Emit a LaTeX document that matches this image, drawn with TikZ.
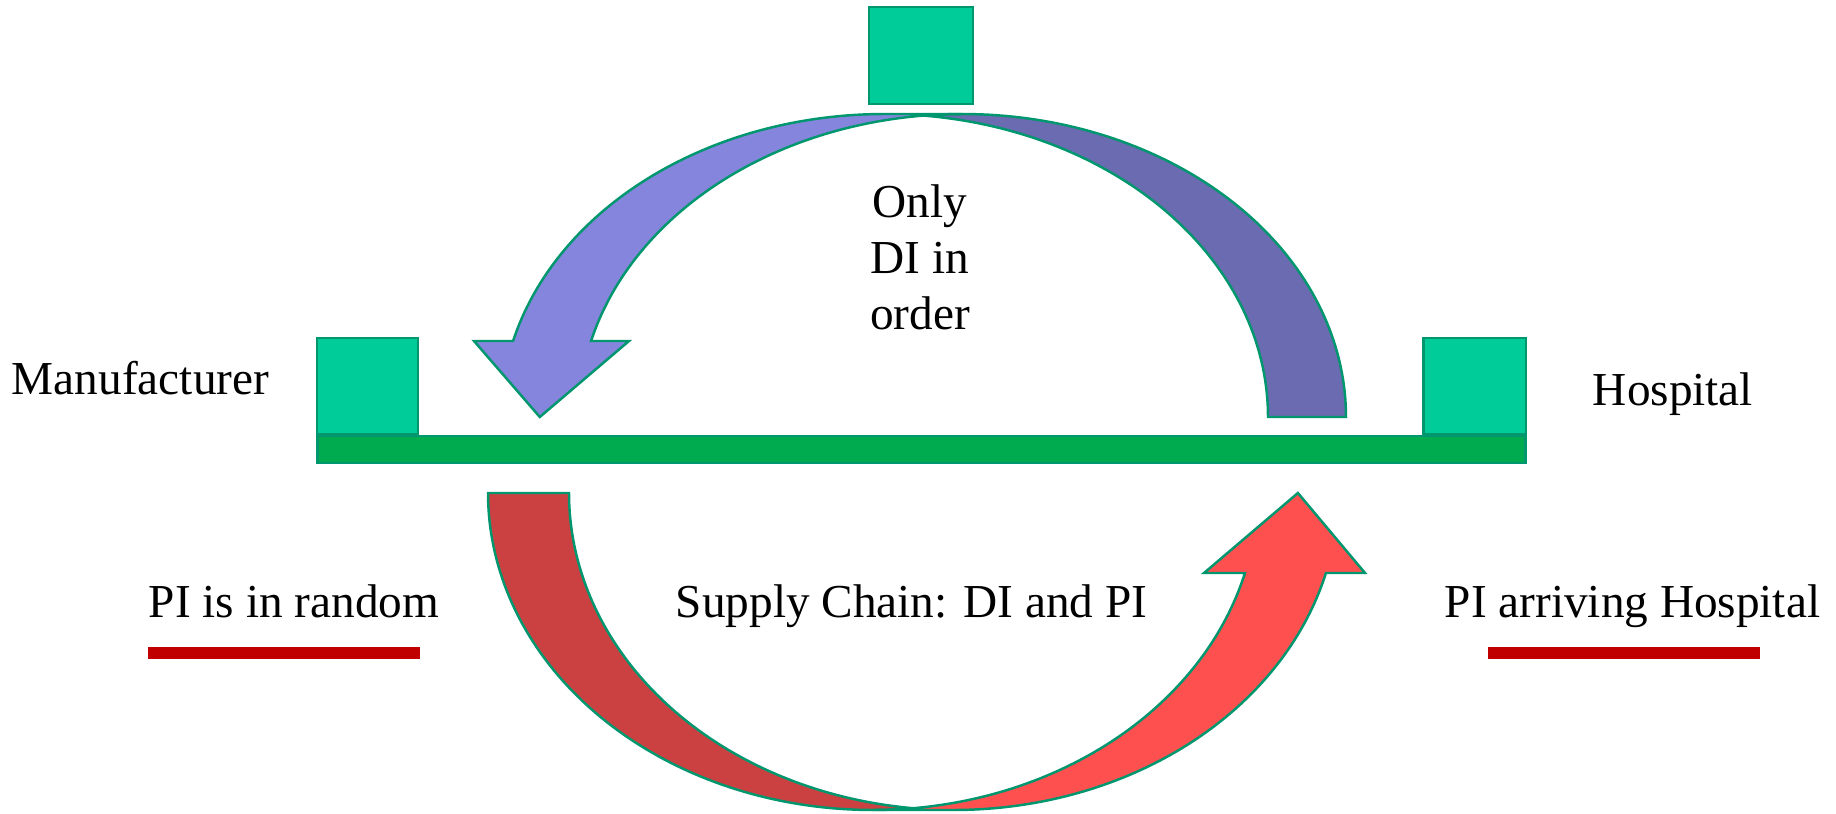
\documentclass[tikz,border=0pt]{standalone}
\usepackage{fontspec}
\setmainfont{Liberation Serif}
\definecolor{edge}{RGB}{0,150,110}
\definecolor{boxgreen}{RGB}{0,204,153}
\definecolor{bargreen}{RGB}{0,171,79}
\definecolor{lightpurple}{RGB}{133,133,222}
\definecolor{darkpurple}{RGB}{106,107,176}
\definecolor{darkred}{RGB}{203,65,65}
\definecolor{lightred}{RGB}{255,80,80}
\definecolor{markred}{RGB}{192,0,0}
\tikzset{
  greenbox/.style={draw=edge, fill=boxgreen, line width=1.4pt, inner sep=0pt},
  railbar/.style={draw=edge, fill=bargreen, line width=1.4pt, inner sep=0pt},
  band/.style={draw=edge, line width=1.4pt, line join=miter},
  lbl/.style={font=\fontsize{26.9}{32}\selectfont, inner sep=0pt, text=black},
  underline/.style={draw=markred, line width=6.8pt, line cap=butt},
}
\begin{document}
\begin{tikzpicture}[x=0.02cm, y=-0.02cm]
\useasboundingbox (0,0) rectangle (1836,814);

% stations and the rail between them
\node[greenbox, minimum width=2.07cm, minimum height=1.93cm] (mid) at (921,55.5) {};
\node[greenbox, minimum width=2.01cm, minimum height=1.91cm] (mfr) at (367.5,386) {};
\node[greenbox, minimum width=2.05cm, minimum height=1.91cm] (hosp) at (1474.5,386) {};
\node[railbar, minimum width=24.17cm, minimum height=0.53cm] (rail) at (921.5,449.5) {};

% upper curved arrow: back face (right), then front face with head (left)
\draw[band, fill=darkpurple]
  plot[domain=0:95.84, samples=80] ({962.4+383.6*cos(\x)}, {417-303*sin(\x)})
  -- plot[domain=84.16:0, samples=80] ({884.4+383.6*cos(\x)}, {417-303*sin(\x)})
  -- cycle;
\draw[band, fill=lightpurple]
  plot[domain=90:165.47, samples=80] ({884.4+383.6*cos(\x)}, {417-303*sin(\x)})
  -- (474,341) -- (539.8,417) -- (629,341)
  -- plot[domain=165.47:90, samples=80] ({962.4+383.6*cos(\x)}, {417-303*sin(\x)})
  -- cycle;

% lower curved arrow: back face (left), then front face with head (right)
\draw[band, fill=darkred]
  plot[domain=180:83.96, samples=80] ({872.7+384.7*cos(\x)}, {493+317*sin(\x)})
  -- plot[domain=96.04:180, samples=80] ({953.7+384.7*cos(\x)}, {493+317*sin(\x)})
  -- cycle;
\draw[band, fill=lightred]
  plot[domain=90:14.62, samples=80] ({953.7+384.7*cos(\x)}, {493+317*sin(\x)})
  -- (1365,573) -- (1297.9,493) -- (1204,573)
  -- plot[domain=14.62:90, samples=80] ({872.7+384.7*cos(\x)}, {493+317*sin(\x)})
  -- cycle;

% labels
\node[lbl, anchor=base] (mfrlabel) at (140.5,394) {Manufacturer};
\node[lbl, anchor=base] (hosplabel) at (1673,405) {Hospital};
\node[lbl, align=center, anchor=center] (dinote) at (920,257.6) {Only\\DI in\\order};
\node[lbl, anchor=base] (random) at (294,617) {PI is in random};
\node[lbl, anchor=base] (chain) at (911.5,617) {Supply Chain: DI and PI};
\node[lbl, anchor=base] (arrive) at (1632.5,617) {PI arriving Hospital};

% red marks under the side labels
\draw[underline] (148,653) -- (420,653);
\draw[underline] (1488,653) -- (1760,653);
\end{tikzpicture}
\end{document}
